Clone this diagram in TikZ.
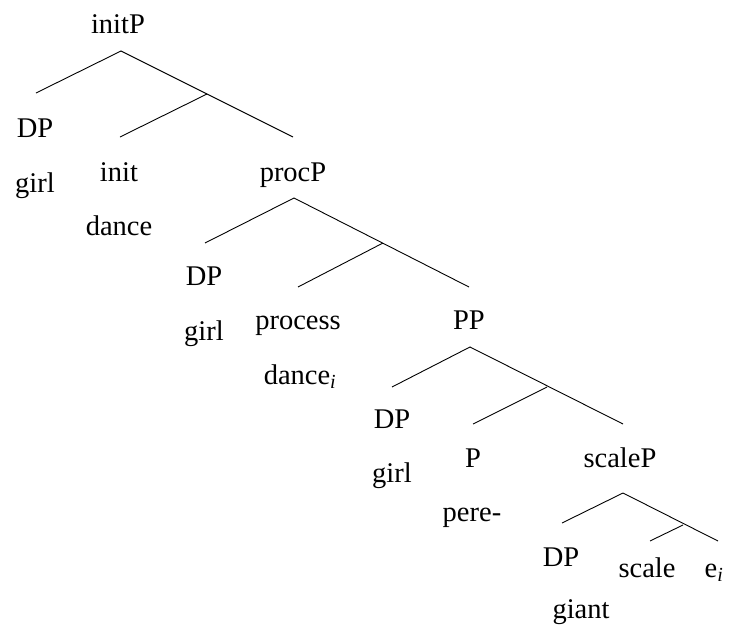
\documentclass[tikz,border=0pt]{standalone}
\usepackage{fontspec}
\setmainfont{Liberation Serif}
\begin{document}
\begin{tikzpicture}[x=1pt,y=-1pt,
  lbl/.style={anchor=base,inner sep=0pt,font=\fontsize{28.5}{34}\selectfont},
  branch/.style={line width=0.9pt}]
\useasboundingbox (0,0) rectangle (732,632);

% ---- initP ----
\node[lbl] (initP) at (118,33) {initP};
\node[lbl] (dp1) at (35,137) {DP};
\node[lbl] (girl1) at (35,192) {girl};
\node[lbl] (init) at (119,181) {init};
\node[lbl] (dance1) at (119,235) {dance};
\node[lbl] (procP) at (293,181) {procP};
\coordinate (a1) at (121,51);
\coordinate (l1) at (36,93);
\coordinate (r1) at (293,137);
\coordinate (j1) at (207,94);
\coordinate (m1) at (120,137);
\draw[branch] (l1) -- (a1) -- (r1);
\draw[branch] (j1) -- (m1);

% ---- procP ----
\node[lbl] (dp2) at (204,285) {DP};
\node[lbl] (girl2) at (204,340) {girl};
\node[lbl] (process) at (298,329) {process};
\node[lbl] (dance2) at (300,384) {dance\textsubscript{\textit{i}}};
\node[lbl] (PP) at (469,329) {PP};
\coordinate (a2) at (294,198);
\coordinate (l2) at (205,243);
\coordinate (r2) at (469,287);
\coordinate (j2) at (383,243);
\coordinate (m2) at (298,287);
\draw[branch] (l2) -- (a2) -- (r2);
\draw[branch] (j2) -- (m2);

% ---- PP ----
\node[lbl] (dp3) at (392,428) {DP};
\node[lbl] (girl3) at (392,482) {girl};
\node[lbl] (P) at (473,467) {P};
\node[lbl] (pere) at (472,521) {pere-};
\node[lbl] (scaleP) at (620,467) {scaleP};
\coordinate (a3) at (470,347);
\coordinate (l3) at (392,387);
\coordinate (r3) at (623,424);
\coordinate (j3) at (547,387);
\coordinate (m3) at (473,424);
\draw[branch] (l3) -- (a3) -- (r3);
\draw[branch] (j3) -- (m3);

% ---- scaleP ----
\node[lbl] (dp4) at (561,566) {DP};
\node[lbl] (giant) at (581,618) {giant};
\node[lbl] (scale) at (647,577) {scale};
\node[lbl] (ei) at (714,577) {e\textsubscript{\textit{i}}};
\coordinate (a4) at (623,493);
\coordinate (l4) at (562,523);
\coordinate (r4) at (718,541);
\coordinate (j4) at (683,525);
\coordinate (m4) at (650,541);
\draw[branch] (l4) -- (a4) -- (r4);
\draw[branch] (j4) -- (m4);
\end{tikzpicture}
\end{document}
